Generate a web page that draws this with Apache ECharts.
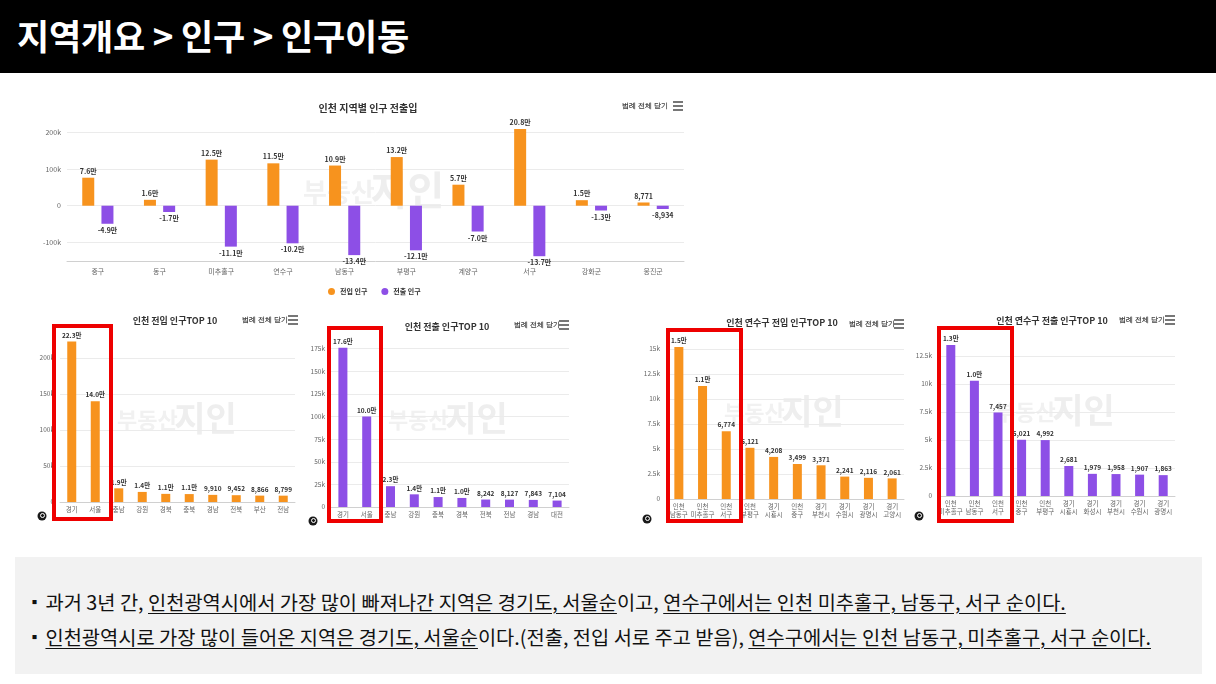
<!DOCTYPE html>
<html><head><meta charset="utf-8">
<script src="https://cdn.jsdelivr.net/npm/echarts@6/dist/echarts.min.js"></script>
<style>
html,body{margin:0;padding:0;width:1216px;height:684px;overflow:hidden;background:#fff;font-family:"Noto Sans CJK KR","Noto Sans",sans-serif;}
#header{position:absolute;left:0;top:0;width:1216px;height:73px;background:#000;z-index:5;}
#header span{position:absolute;left:17px;top:12px;color:#fff;font-size:35px;font-weight:bold;line-height:46px;letter-spacing:-0.2px;}
#chart{position:absolute;left:0;top:0;width:1216px;height:684px;z-index:1;}
#note{position:absolute;left:15px;top:557px;width:1187px;height:117px;background:#f2f2f2;z-index:5;}
#note p{position:absolute;left:12px;margin:0;font-size:19.8px;line-height:26px;color:#111;white-space:nowrap;}
#note .b{font-size:15px;vertical-align:2px;margin-right:-1px;}
#note u{text-underline-offset:3px;}
</style></head>
<body>
<div id="header"><span>지역개요 &gt; 인구 &gt; 인구이동</span></div>
<div id="chart"></div>
<div id="note">
<p style="top:32px"><span class="b">▪</span> 과거 3년 간, <u>인천광역시에서 가장 많이 빠져나간 지역은 경기도, 서울순</u>이고, <u>연수구에서는 인천 미추홀구, 남동구, 서구 순이다.</u></p>
<p style="top:67px"><span class="b">▪</span> <u>인천광역시로 가장 많이 들어온 지역은 경기도, 서울순</u>이다.(전출, 전입 서로 주고 받음), <u>연수구에서는 인천 남동구, 미추홀구, 서구 순이다.</u></p>
</div>
<script>
// ---- data ----
const mainCats = ['중구','동구','미추홀구','연수구','남동구','부평구','계양구','서구','강화군','옹진군'];
const mainIn  = [76000,16000,125000,115000,109000,132000,57000,208000,15000,8771];
const mainOut = [-49000,-17000,-111000,-102000,-134000,-121000,-70000,-137000,-13000,-8934];

const inTopCats = ['경기','서울','충남','강원','경북','충북','경남','전북','부산','전남'];
const inTopVals = [223000,140000,19000,14000,11300,11000,9910,9452,8866,8799];

const outTopCats = ['경기','서울','충남','강원','충북','경북','전북','전남','경남','대전'];
const outTopVals = [176000,100000,23000,14000,11000,10000,8242,8127,7843,7104];

const ysInCats = ['인천\n남동구','인천\n미추홀구','인천\n서구','인천\n부평구','경기\n시흥시','인천\n중구','경기\n부천시','경기\n수원시','경기\n광명시','경기\n고양시'];
const ysInVals = [15200,11300,6774,5121,4208,3499,3371,2241,2116,2061];

const ysOutCats = ['인천\n미추홀구','인천\n남동구','인천\n서구','인천\n중구','인천\n부평구','경기\n시흥시','경기\n화성시','경기\n부천시','경기\n수원시','경기\n광명시'];
const ysOutVals = [13490,10300,7457,5021,4992,2681,1979,1958,1907,1863];

const titles = ['인천 지역별 인구 전출입','인천 전입 인구TOP 10','인천 전출 인구TOP 10','인천 연수구 전입 인구TOP 10','인천 연수구 전출 인구TOP 10'];
const legendNames = ['전입 인구','전출 인구'];

// ---- styling ----
const ORANGE = '#F7931E', PURPLE = '#8D4FE6';
const FONT = '"Noto Sans CJK KR","Noto Sans",sans-serif';
const T = 'rgba(0,0,0,0)', G = '#ebebeb';

function fmtVal(v){
  const a = Math.abs(v), s = v < 0 ? '-' : '';
  return a >= 10000 ? s + (a/10000).toFixed(1) + '만' : s + a.toLocaleString('en-US');
}
function fmtK(v){
  if (v === 0) return '0';
  return (v/1000) + 'k';
}
const labelStyle = {show:true, fontSize:7, fontWeight:'bold', color:'#333', distance:3,
  formatter: p => fmtVal(p.value), fontFamily: FONT};

const grids = [
  {left:67, top:132, width:617, height:129},   // main
  {left:60, top:322, width:235, height:180},   // in top10
  {left:331, top:326, width:238, height:181},  // out top10
  {left:667, top:324, width:237, height:175},  // yeonsu in
  {left:939, top:328, width:236, height:168}   // yeonsu out
];
const catsList = [mainCats, inTopCats, outTopCats, ysInCats, ysOutCats];

const xAxes = catsList.map((c,i)=>({
  type:'category', gridIndex:i, data:c,
  axisTick:{show:false},
  axisLine:{onZero:false, lineStyle:{color:'#d0d0d0'}},
  axisLabel:{interval:0, fontSize:i===0?7:6.5, color:'#666', margin:i===0?6:4, lineHeight:8, fontFamily:FONT}
}));

const yAxes = [
  {type:'value', gridIndex:0, min:-150000, max:200000, interval:50000,
   axisLabel:{fontSize:7, color:'#666', margin:6, formatter:v => (v % 100000 === 0) ? fmtK(v) : ''},
   splitLine:{lineStyle:{color:[T,G]}}},
  {type:'value', gridIndex:1, min:0, max:250000, interval:50000,
   axisLabel:{fontSize:6.5, color:'#666', margin:6, showMaxLabel:false, formatter:fmtK},
   splitLine:{lineStyle:{color:[T,G,G,G,G,T]}}},
  {type:'value', gridIndex:2, min:0, max:200000, interval:25000,
   axisLabel:{fontSize:6.5, color:'#666', margin:6, showMaxLabel:false, formatter:fmtK},
   splitLine:{lineStyle:{color:[T,G,G,G,G,G,G,G,T]}}},
  {type:'value', gridIndex:3, min:0, max:17500, interval:2500,
   axisLabel:{fontSize:6.5, color:'#666', margin:7, showMaxLabel:false, formatter:fmtK},
   splitLine:{lineStyle:{color:[T,G,G,G,G,G,G,T]}}},
  {type:'value', gridIndex:4, min:0, max:15000, interval:2500,
   axisLabel:{fontSize:6.5, color:'#666', margin:7, showMaxLabel:false, formatter:fmtK},
   splitLine:{lineStyle:{color:[T,G,G,G,G,G,T]}}}
];
yAxes.forEach(a=>{a.axisLine={show:false}; a.axisTick={show:false}; a.axisLabel.fontFamily=FONT;});

const series = [
  {name:legendNames[0], type:'bar', xAxisIndex:0, yAxisIndex:0, data:mainIn, barWidth:12, barGap:'60%',
   itemStyle:{color:ORANGE}, label:Object.assign({}, labelStyle, {position:'top'}), clip:false},
  {name:legendNames[1], type:'bar', xAxisIndex:0, yAxisIndex:0, data:mainOut, barWidth:12, barGap:'60%',
   itemStyle:{color:PURPLE}, label:Object.assign({}, labelStyle, {position:'bottom'}), clip:false},
  {name:titles[1], type:'bar', xAxisIndex:1, yAxisIndex:1, data:inTopVals, barWidth:9,
   itemStyle:{color:ORANGE}, label:Object.assign({}, labelStyle, {position:'top', fontSize:6.5})},
  {name:titles[2], type:'bar', xAxisIndex:2, yAxisIndex:2, data:outTopVals, barWidth:9,
   itemStyle:{color:PURPLE}, label:Object.assign({}, labelStyle, {position:'top', fontSize:6.5})},
  {name:titles[3], type:'bar', xAxisIndex:3, yAxisIndex:3, data:ysInVals, barWidth:9,
   itemStyle:{color:ORANGE}, label:Object.assign({}, labelStyle, {position:'top', fontSize:6.5})},
  {name:titles[4], type:'bar', xAxisIndex:4, yAxisIndex:4, data:ysOutVals, barWidth:9,
   itemStyle:{color:PURPLE}, label:Object.assign({}, labelStyle, {position:'top', fontSize:6.5})}
];

const titlePos = [[363,98,10],[170,311,9],[442,317,9],[777,313,9],[1047,311,9]];
const titleArr = titles.map((t,i)=>({text:t, left:titlePos[i][0], top:titlePos[i][1], textAlign:'center',
  textStyle:{fontSize:titlePos[i][2], fontWeight:'bold', color:'#333', fontFamily:FONT}}));

// decorations: menu, watermark, red boxes, icons
const menuPos = [[645,106,678],[265,320,293],[537,325,564],[872,324,899],[1142,320,1170]];
const graphics = [];
menuPos.forEach(m=>{
  graphics.push({type:'text', x:m[0], y:m[1], style:{text:'범례 전체 닫기', fontSize:6.5, fontWeight:'bold', fill:'#444', align:'center', verticalAlign:'middle', font:'bold 6.5px '+FONT}});
  [-4,0,4].forEach(d=>graphics.push({type:'rect', shape:{x:m[2]-5, y:m[1]+d-0.8, width:10, height:1.6}, style:{fill:'#555'}}));
});
const wmPos = [[303,192,26,40],[117,420,22,34],[388,420,22,34],[724,413,22,34],[995,412,22,34]];
wmPos.forEach(w=>{
  graphics.push({type:'text', x:w[0], y:w[1], z:-1, style:{text:'부동산', fill:'#f1f1f1', verticalAlign:'middle', font:'bold '+w[2]+'px '+FONT}});
  graphics.push({type:'text', x:w[0]+w[2]*2.6, y:w[1]-2, z:-1, style:{text:'지인', fill:'#eeeeee', verticalAlign:'middle', font:'bold '+w[3]+'px '+FONT}});
});
const boxes = [[54,326,57,193],[329,328,52,193],[668,330,73,191],[939,328,73,193]];
boxes.forEach(b=>graphics.push({type:'rect', z:100, shape:{x:b[0], y:b[1], width:b[2], height:b[3]}, style:{fill:null, stroke:'#ee0000', lineWidth:4}}));
const icons = [[42,516],[313,521],[647,519],[919,516]];
icons.forEach(c=>{
  graphics.push({type:'circle', z:50, shape:{cx:c[0], cy:c[1], r:4.5}, style:{fill:'#1a1a1a'}});
  graphics.push({type:'circle', z:51, shape:{cx:c[0]+0.5, cy:c[1]-0.5, r:2}, style:{fill:null, stroke:'#fff', lineWidth:1}});
});

const chart = echarts.init(document.getElementById('chart'), null, {renderer:'canvas'});
chart.setOption({
  animation:false,
  backgroundColor:'transparent',
  textStyle:{fontFamily:FONT},
  title:titleArr,
  legend:{data:legendNames, left:323, top:283, icon:'circle', itemWidth:7, itemHeight:7, itemGap:14,
    textStyle:{fontSize:7, fontWeight:'bold', color:'#333', fontFamily:FONT}},
  grid:grids,
  xAxis:xAxes,
  yAxis:yAxes,
  series:series,
  graphic:graphics
});
</script>
</body></html>
